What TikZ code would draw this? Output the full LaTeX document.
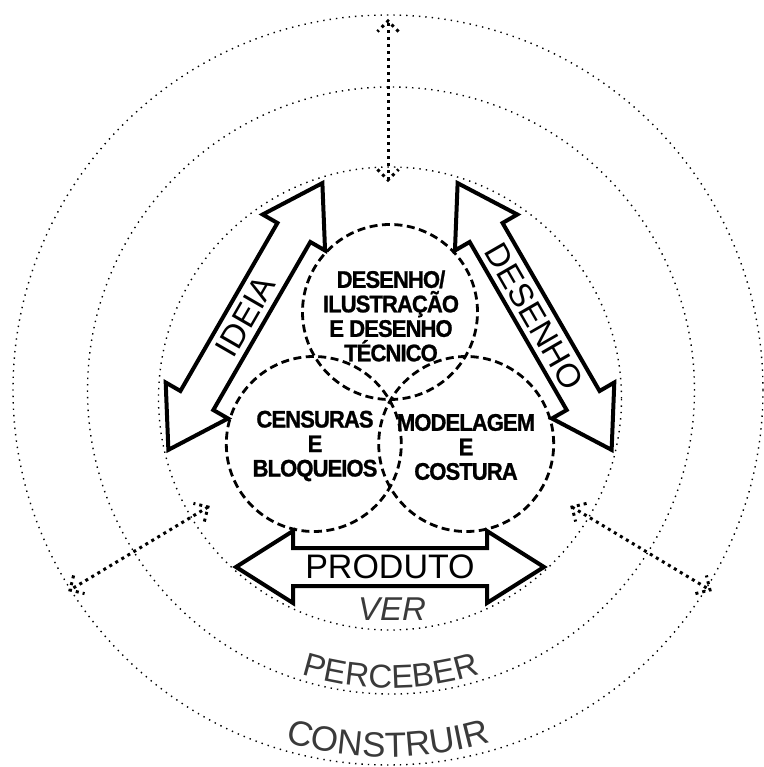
\documentclass[tikz,border=0pt]{standalone}
\usepackage{fontspec}
\setmainfont{Liberation Sans}
\newfontfamily\cfont[FakeStretch=0.92, LetterSpace=-4, FakeBold=1]{Liberation Sans}
\usetikzlibrary{calc,decorations.text}
\definecolor{txtgray}{HTML}{3A3A3A}
\tikzset{
  ring/.style={line width=1.4pt, dash pattern=on 1.4pt off 5pt},
  zone/.style={line width=2.8pt, dash pattern=on 8pt off 4.5pt},
  dotlink/.style={line width=3pt, dash pattern=on 3pt off 4pt},
  bigarrow/.style={line width=4pt, line join=miter, miter limit=10},
  arrowlabel/.style={font=\fontsize{33}{33}\selectfont, inner sep=0pt},
  zonelabel/.style={font=\cfont\bfseries\fontsize{24}{24.5}\selectfont, align=center, inner sep=0pt},
  ringlabel/.style={font=\fontsize{33}{33}\selectfont, inner sep=0pt, text=txtgray},
}
\newcommand\hollowdouble{%
  \draw[bigarrow] (154,0) -- (97,36) -- (97,19) -- (-97,19) -- (-97,36) -- (-154,0)
    -- (-97,-36) -- (-97,-19) -- (97,-19) -- (97,-36) -- cycle;}
\newcommand\dothead[2]{%
  \draw[dotlink] ($(#1)!15pt!45:(#2)$) -- (#1) -- ($(#1)!15pt!-45:(#2)$);}
\begin{document}
\begin{tikzpicture}[x=1pt,y=1pt]
\useasboundingbox (-390,-367) rectangle (373,400);

% concentric dotted rings
\draw[ring] (0,1.5) circle[radius=231.5];
\draw[ring] (1,9.5) circle[radius=303.5];
\draw[ring] (-2,10) circle[radius=375];

% dashed zone circles
\draw[zone] (0,88) circle[radius=87.5];
\draw[zone] (-76.2,-44) circle[radius=87.5];
\draw[zone] (76.2,-44) circle[radius=87.5];

\node[zonelabel] (zdes) at (1,84) {DESENHO/\\ILUSTRAÇÃO\\E DESENHO\\TÉCNICO};
\node[zonelabel] (zcen) at (-75,-46) {CENSURAS\\E\\BLOQUEIOS};
\node[zonelabel] (zmod) at (76,-47) {MODELAGEM\\E\\COSTURA};

% hollow double arrows
\begin{scope}[shift={(150:167)}, rotate=60]\hollowdouble\end{scope}
\begin{scope}[shift={(30:167)}, rotate=-60]\hollowdouble\end{scope}
\begin{scope}[shift={(0,-167)}]\hollowdouble\end{scope}

\node[arrowlabel, rotate=60] (ideia) at (150:167) {IDEIA};
\node[arrowlabel, rotate=-60] (desenho) at (30:167) {DESENHO};
\node[arrowlabel, font=\fontsize{34}{34}\selectfont] (produto) at (0,-167) {PRODUTO};

% dotted double arrows
\coordinate (tA) at (-2,220);
\coordinate (tB) at (-2,379);
\coordinate (lA) at (-182,-107);
\coordinate (lB) at (-320,-190);
\coordinate (rA) at (182,-107);
\coordinate (rB) at (320,-190);
\draw[dotlink] (tA) -- (tB);
\draw[dotlink] (lA) -- (lB);
\draw[dotlink] (rA) -- (rB);
\dothead{tA}{tB}\dothead{tB}{tA}
\dothead{lA}{lB}\dothead{lB}{lA}
\dothead{rA}{rB}\dothead{rB}{rA}

% ring labels
\node[ringlabel, font=\itshape\fontsize{33}{33}\selectfont] (ver) at (2,-209.5) {VER};
\path[decorate, decoration={text along path, text align=center, text color=txtgray,
      text={|\fontsize{33}{33}\selectfont|PERCEBER}}]
  ($(1,9.5)+(240:297.5)$) arc[start angle=240, end angle=300, radius=297.5];
\path[decorate, decoration={text along path, text align=center, text color=txtgray,
      text={|\fontsize{35}{35}\selectfont|CONSTRUIR}}]
  ($(-2,10)+(235:367)$) arc[start angle=235, end angle=305, radius=367];
\end{tikzpicture}
\end{document}
